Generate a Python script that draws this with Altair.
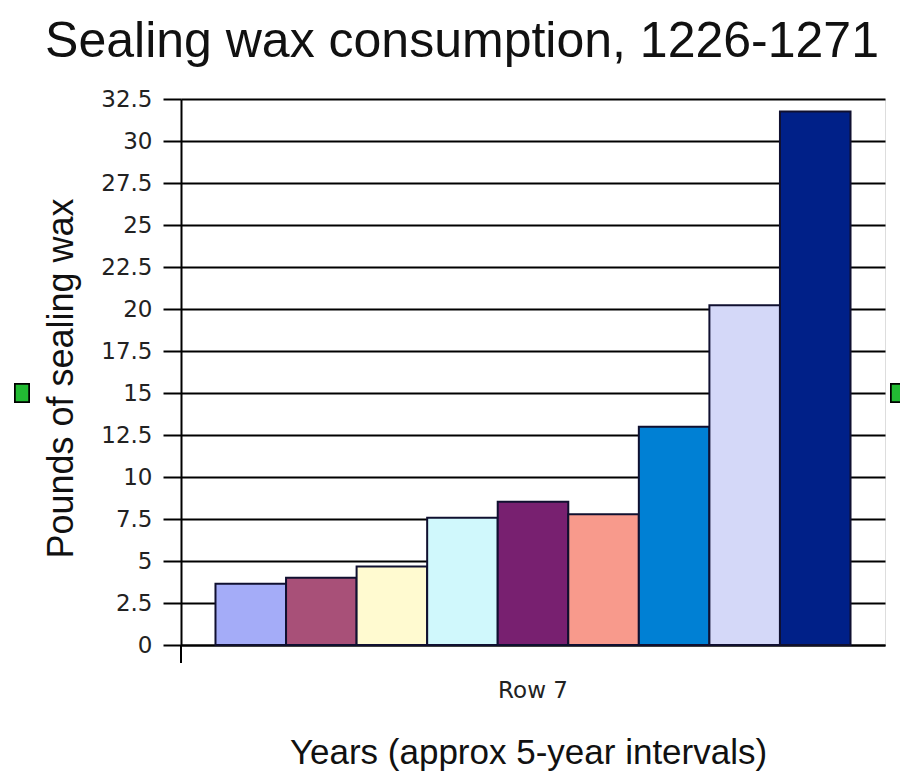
import altair as alt
import pandas as pd

# data
periods = ["1", "2", "3", "4", "5", "6", "7", "8", "9"]
pounds = [3.65, 4.0, 4.68, 7.58, 8.53, 7.78, 12.99, 20.22, 31.76]
colors = ["#a4acf8", "#a85078", "#fffad0", "#d0f8fc", "#782070",
          "#f89a8c", "#0080d4", "#d4d8f8", "#002088"]
row_label = "Row 7"
y_ticks = [0, 2.5, 5, 7.5, 10, 12.5, 15, 17.5, 20, 22.5, 25, 27.5, 30, 32.5]

df = pd.DataFrame({"row": [row_label] * len(periods), "period": periods, "pounds": pounds})

W, H = 704, 546

bars = alt.Chart(df).mark_bar(stroke="#101030", strokeWidth=2).encode(
    x=alt.X("row:N",
            scale=alt.Scale(paddingOuter=0.0543, paddingInner=0),
            axis=alt.Axis(title="Years (approx 5-year intervals)", labelAngle=0,
                          ticks=False, domain=True, domainColor="black", domainWidth=2,
                          labelFont="DejaVu Sans", labelFontSize=23, labelColor="#222222",
                          labelBaseline="alphabetic", labelPadding=52,
                          titleFont="Liberation Sans", titleFontSize=35, titleFontWeight="normal",
                          titleColor="#111111", titleBaseline="alphabetic",
                          titleX=347, titleY=118, titleAlign="center")),
    xOffset=alt.XOffset("period:N", sort=periods,
                        scale=alt.Scale(paddingInner=0, paddingOuter=0)),
    y=alt.Y("pounds:Q",
            scale=alt.Scale(domain=[0, 32.5], nice=False),
            axis=alt.Axis(title="Pounds of sealing wax", values=y_ticks,
                          format=".1~f",
                          grid=True, gridColor="black", gridWidth=2, gridOpacity=1,
                          domain=True, domainColor="black", domainWidth=2,
                          ticks=True, tickSize=18, tickWidth=2, tickColor="black",
                          labelFont="DejaVu Sans", labelFontSize=23, labelColor="#222222",
                          labelPadding=11, labelBaseline="middle",
                          titleFont="Liberation Sans", titleFontSize=36, titleFontWeight="normal",
                          titleColor="#111111", titleBaseline="alphabetic",
                          titleAngle=-90, titleAlign="center",
                          titleX=-109, titleY=279)),
    color=alt.Color("period:N", sort=periods,
                    scale=alt.Scale(domain=periods, range=colors), legend=None),
)

# y-axis line continuing below the x axis
axis_ext = alt.Chart(df).mark_rule(color="black", strokeWidth=2).encode(
    x=alt.value(0), y=alt.value(H), y2=alt.value(H + 18)
)

# small green selection handles on each side
handle_left = alt.Chart(df).mark_rect(fill="#22bb33", stroke="black", strokeWidth=1.5).encode(
    x=alt.value(-166), x2=alt.value(-152), y=alt.value(285), y2=alt.value(303)
)
handle_right = alt.Chart(df).mark_rect(fill="#22bb33", stroke="black", strokeWidth=1.5).encode(
    x=alt.value(710), x2=alt.value(724), y=alt.value(285), y2=alt.value(303)
)

chart = alt.layer(bars, axis_ext, handle_left, handle_right).properties(
    width=W, height=H,
    title=alt.TitleParams("Sealing wax consumption, 1226-1271",
                          font="Liberation Sans", fontSize=50, fontWeight="normal",
                          color="#111111", anchor="middle", dx=-71,
                          baseline="alphabetic", offset=-19),
    autosize=alt.AutoSizeParams(type="none"),
    padding={"left": 173, "top": 91, "right": 15, "bottom": 130},
).configure_view(stroke=None).configure(background="white")

chart.save("out.html", embed_options={"renderer": "svg", "actions": False})
